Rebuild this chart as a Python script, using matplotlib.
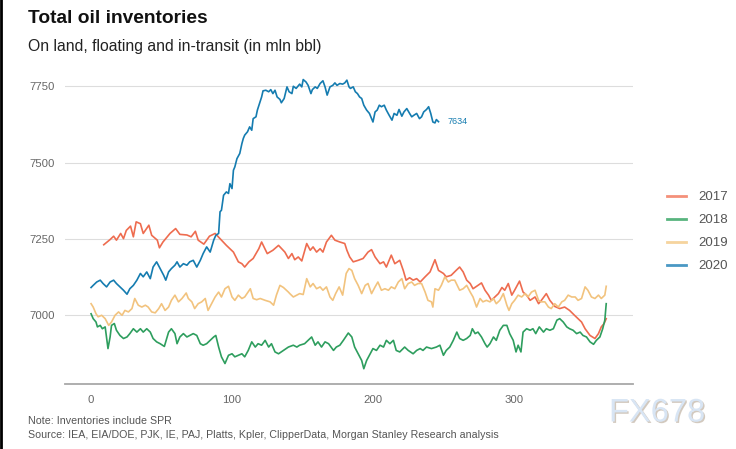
import matplotlib
matplotlib.use("Agg")
import matplotlib.pyplot as plt
import matplotlib.patheffects as pe
from matplotlib.lines import Line2D

plt.rcParams['font.family'] = ['Liberation Sans', 'DejaVu Sans']

# ---------------- data (day of year, mln bbl) ----------------
days_2017 = [9, 13.5, 16, 18, 21, 23, 25, 28, 30, 32, 35, 37, 41, 43, 47, 48.5, 51, 56, 60, 63, 68, 71, 74, 76, 80,
             82, 84, 88, 91.5, 96, 101, 104.5, 107, 109, 112, 115, 119, 121, 125, 129, 133,
             137.5, 140, 142.5, 144.5, 147, 149.5, 153, 155.5, 157.5, 160, 162.5, 164.5, 167, 170.5, 173, 176.5, 180,
             181.5, 183.5, 186, 189.5, 193, 196.5, 199, 201.5, 205, 207.5, 209.5, 213, 215.5, 219, 221.5, 223.5, 226,
             228.5, 231, 233.5, 237, 240.5, 244, 246.5, 250, 252, 255.5, 259,
             261.5, 264, 266.5, 269, 271, 274.5, 277, 279.5, 282, 284, 286.5, 289, 291.5, 293.5, 296, 298.5, 300.5,
             304, 306.5, 309, 311.5, 315, 317.5, 319.5, 323, 325.5, 329, 332.5, 336, 339.5, 343, 345.5, 348, 350.5,
             354, 357.5, 360, 362, 364, 365.5]
vals_2017 = [7231, 7248, 7259, 7246, 7268, 7251, 7278, 7292, 7257, 7306, 7300, 7268, 7295, 7262, 7246, 7221, 7240,
             7268, 7284, 7265, 7263, 7257, 7275, 7246, 7233, 7246, 7259, 7268, 7251, 7229, 7207, 7175, 7169, 7158,
             7175, 7186, 7218, 7240, 7202, 7213, 7229,
             7207, 7186, 7202, 7182, 7191, 7178, 7235, 7213, 7224, 7207, 7218, 7207, 7240, 7262, 7246, 7240, 7235,
             7213, 7191, 7175, 7180, 7186, 7207, 7215, 7191, 7169, 7175, 7158, 7197, 7169, 7180, 7147, 7115, 7123,
             7115, 7120, 7109, 7126, 7142, 7182, 7147, 7137, 7126, 7131, 7147,
             7158, 7142, 7115, 7104, 7087, 7098, 7106, 7082, 7066, 7049, 7060, 7071, 7091, 7082, 7104, 7066, 7082,
             7112, 7076, 7066, 7049, 7060, 7038, 7049, 7071, 7049, 7029, 7022, 7027, 7016, 7000, 6989, 6978, 6956,
             6934, 6924, 6940, 6962, 6973, 6989]

days_2018 = [0, 1.5, 3.5, 4.5, 6.5, 8, 10, 12, 13.5, 14.5, 16.5, 18, 20.5, 23, 25.5, 27.5, 30, 32.5, 35, 37,
             39.5, 42, 44, 46.5, 49, 52, 55, 57, 59.5, 61, 63, 65.5, 68, 70, 72.5, 75, 77.5, 79.5, 82, 84.5,
             87, 88.5, 90.5, 92.5, 95, 97.5, 100, 102, 104.5, 107, 109, 111.5, 114, 116.5, 118.5, 121, 123.5, 126,
             128, 130.5, 133, 136.5, 140,
             143.5, 146, 148, 151.5, 154, 156.5, 159, 161, 163.5, 166, 168.5, 172, 174, 176.5, 179, 182.5, 185, 187,
             189.5, 192, 193.5, 195.5, 198, 200, 202.5, 205, 207.5, 209.5, 212, 214.5, 216.5, 219, 222.5, 225,
             228.5, 231, 233.5, 235.5, 238, 241.5, 245, 247.5, 250, 252, 254.5, 257, 259.5,
             261.5, 264, 266.5, 269, 270.5, 272.5, 274.5, 277, 279.5, 281, 283, 285.5, 287.5, 290, 292.5, 295, 297,
             299.5, 301.5, 303, 305, 306.5, 309, 311.5, 313.5, 315.5, 318, 321, 323, 325.5, 328, 330.5, 332.5, 335,
             337.5, 339.5, 342, 344.5, 347, 349, 351.5, 354, 356.5, 358.5, 361, 363, 364.5, 365.5]
vals_2018 = [7005, 6989, 6978, 6962, 6967, 6956, 6962, 6891, 6929, 6967, 6973, 6951, 6934, 6924, 6929, 6940, 6956,
             6945, 6956, 6945, 6956, 6945, 6924, 6913, 6907, 6898, 6945, 6956, 6940, 6907, 6929, 6940, 6929, 6934,
             6940, 6934, 6907, 6902, 6907, 6918, 6929, 6934, 6896, 6864, 6842, 6869, 6874, 6864, 6869, 6874, 6864,
             6885, 6913, 6896, 6907, 6902, 6918, 6896, 6907, 6880, 6874, 6885, 6896,
             6902, 6896, 6902, 6907, 6918, 6929, 6902, 6913, 6896, 6913, 6907, 6885, 6896, 6902, 6918, 6942, 6929,
             6896, 6874, 6852, 6825, 6852, 6874, 6891, 6885, 6902, 6896, 6918, 6907, 6918, 6885, 6880, 6896, 6885,
             6874, 6885, 6891, 6885, 6896, 6891, 6896, 6902, 6869, 6885, 6896, 6918, 6945,
             6924, 6918, 6924, 6934, 6956, 6940, 6945, 6929, 6907, 6896, 6907, 6929, 6918, 6951, 6967, 6967, 6940,
             6918, 6880, 6902, 6880, 6945, 6956, 6951, 6956, 6940, 6962, 6945, 6956, 6951, 6956, 6984, 6989, 6978,
             6962, 6956, 6951, 6940, 6945, 6934, 6929, 6913, 6905, 6918, 6929, 6956, 6984, 7038]

days_2019 = [0, 1.5, 3.5, 5, 7.5, 10, 12.5, 14.5, 17, 19.5, 22, 24, 26.5, 29, 31, 33.5, 36, 38.5, 40.5, 43,
             45.5, 48, 50, 52.5, 55, 57, 59.5, 62, 64.5, 67.5, 69, 71.5, 73.5, 76, 78.5, 81, 83, 85.5, 88, 90.5,
             92.5, 95, 97.5, 100, 102, 104.5, 107, 109, 113, 115, 117.5, 120, 123.5, 127, 129.5, 131.5, 134, 136.5, 140,
             141, 143.5, 146, 148, 150.5, 153, 155.5, 157.5, 160, 162.5, 164.5, 167, 169.5, 171.5, 173.5, 176, 178.5,
             181, 183, 185, 187, 189.5, 192, 194.5, 196.5, 199, 201.5, 203.5, 206, 208.5, 211, 213, 215.5, 218,
             220.5, 222.5, 225, 227.5, 229.5, 232, 234.5, 237, 239, 241.5, 242.5, 244, 246.5, 248.5, 251, 253.5,
             255.5, 258,
             261.5, 264, 266.5, 269, 271, 273.5, 276, 278, 280.5, 283, 285.5, 287.5, 290, 292.5, 295, 296.5, 298.5,
             300.5, 303, 305.5, 308, 310, 312.5, 315, 317.5, 319.5, 322, 324.5, 326.5, 329, 331.5, 334, 336, 338.5,
             341, 343.5, 345.5, 348, 350.5, 352.5, 355, 357.5, 360, 362, 364.5, 365.5]
vals_2019 = [7038, 7027, 7005, 6995, 7000, 6989, 6967, 6978, 7000, 7011, 7000, 7016, 7011, 7022, 7055, 7033, 7027,
             7033, 7027, 7011, 7008, 7022, 7038, 7016, 7027, 7049, 7066, 7044, 7055, 7073, 7055, 7044, 7022, 7038,
             7044, 7055, 7016, 7038, 7060, 7076, 7060, 7087, 7095, 7060, 7049, 7066, 7055, 7060, 7087, 7055, 7051,
             7055, 7049, 7044, 7033, 7066, 7098, 7091, 7076,
             7071, 7060, 7066, 7071, 7068, 7120, 7093, 7104, 7087, 7093, 7082, 7093, 7060, 7049, 7071, 7093, 7066,
             7137, 7153, 7147, 7120, 7098, 7071, 7098, 7104, 7071, 7093, 7109, 7082, 7087, 7082, 7093, 7087, 7109,
             7120, 7087, 7104, 7109, 7098, 7104, 7104, 7076, 7049, 7044, 7027, 7087, 7082, 7098, 7126, 7109, 7115,
             7115,
             7082, 7087, 7098, 7076, 7060, 7027, 7055, 7044, 7049, 7044, 7055, 7038, 7049, 7071, 7033, 7016, 7038,
             7049, 7066, 7060, 7071, 7060, 7076, 7082, 7049, 7044, 7044, 7027, 7022, 7038, 7027, 7044, 7049, 7066,
             7060, 7060, 7049, 7055, 7093, 7082, 7060, 7055, 7066, 7055, 7066, 7095]

days_2020 = [0, 1.5, 4, 6.5, 8.5, 11, 13.5, 16, 18, 20.5, 23, 25.5, 27.5, 30, 32.5, 35, 37, 39.5, 42, 44,
             46.5, 49, 51.5, 53, 55, 57, 59.5, 61, 63, 65.5, 68, 70, 72.5, 75, 77.5, 79.5, 82, 84.5, 87,
             88.5, 90.5, 91.5, 92.5, 94, 96, 97.5, 98.5, 100, 101, 102, 103.5,
             105.5, 107, 108, 109, 111, 112.5, 114, 115, 117, 118, 119.5, 121, 122, 124, 126, 127.5, 129, 130.5,
             132, 134, 135, 137, 139, 140.5, 142.5, 143.5, 145.5, 148, 149.5, 150.5, 152.5, 154, 156, 157, 159,
             160.5, 162.5, 164.5, 166, 167.5, 169.5, 171.5, 173, 174.5, 176.5, 178.5, 180, 181.5, 183, 184, 186,
             187.5, 189, 190.5, 192, 193.5, 195.5, 197.5, 198.5, 200, 201.5, 203, 204.5, 206, 208, 209.5, 211.5,
             213.5, 215, 217, 218.5, 220.5, 222, 224, 226, 227.5, 229, 231, 233, 234.5, 236, 238, 239.5, 241,
             242.5, 244, 245, 246.5]
vals_2020 = [7091, 7098, 7109, 7115, 7104, 7093, 7109, 7115, 7104, 7093, 7082, 7069, 7087, 7098, 7115, 7137, 7126,
             7142, 7120, 7158, 7175, 7153, 7131, 7115, 7142, 7153, 7164, 7175, 7158, 7169, 7164, 7175, 7180, 7158,
             7180, 7202, 7224, 7207, 7246,
             7262, 7268, 7339, 7344, 7393, 7404, 7399, 7431, 7415, 7475, 7486, 7513,
             7530, 7562, 7579, 7590, 7601, 7617, 7606, 7644, 7650, 7672, 7693, 7715, 7735, 7737, 7732, 7739, 7726,
             7737, 7715, 7707, 7696, 7710, 7748, 7732, 7726, 7750, 7743, 7757, 7748, 7772, 7764, 7753, 7726, 7739,
             7748, 7743, 7759, 7768, 7748, 7721, 7748, 7753, 7761, 7753, 7759, 7757, 7761, 7770, 7748, 7743, 7748,
             7732, 7726, 7715, 7710, 7688, 7672, 7661, 7650, 7633, 7666, 7672, 7688, 7683, 7688, 7672, 7655, 7639,
             7661, 7655, 7674, 7652, 7666, 7677, 7661, 7650, 7655, 7661, 7644, 7650, 7666, 7674, 7683, 7661, 7633,
             7630, 7641, 7634]

series_labels = ["2017", "2018", "2019", "2020"]
x_ticks = [0, 100, 200, 300]
y_ticks = [7000, 7250, 7500, 7750]

colors = ["#EE6C4F", "#2E9E5E", "#F2C37E", "#157CB0"]
legend_colors = ["#F4907A", "#58B47E", "#F6D49E", "#4A98C4"]

W, H = 736, 449
fig = plt.figure(figsize=(W / 100, H / 100), dpi=100)
fig.patch.set_facecolor("white")

ax_l, ax_r, ax_b, ax_t = 65, 633, 384, 71
ax = fig.add_axes([ax_l / W, 1 - ax_b / H, (ax_r - ax_l) / W, (ax_b - ax_t) / H])

all_days = [days_2017, days_2018, days_2019, days_2020]
all_vals = [vals_2017, vals_2018, vals_2019, vals_2020]
for d, v, c, lab in zip(all_days, all_vals, colors, series_labels):
    ax.plot(d, v, color=c, lw=1.2, label=lab, zorder=3, solid_joinstyle="round")

ax.set_xlim(-18.5, 384.5)
ax.set_ylim(6775, 7800)
ax.set_xticks(x_ticks)
ax.set_yticks(y_ticks)
ax.set_xticklabels([str(t) for t in x_ticks])
ax.set_yticklabels([str(t) for t in y_ticks])
ax.tick_params(axis="both", length=0, labelsize=8.2, labelcolor="#666666")
ax.tick_params(axis="y", pad=7.5)
ax.tick_params(axis="x", pad=8)
ax.grid(axis="y", color="#DDDDDD", lw=0.8, zorder=0)
ax.grid(axis="x", visible=False)
for s in ["top", "right", "left"]:
    ax.spines[s].set_visible(False)
ax.spines["bottom"].set_color("#A8A8A8")
ax.spines["bottom"].set_linewidth(1.3)
ax.set_facecolor("white")

# end label for 2020
ax.annotate(f"{vals_2020[-1]}", xy=(days_2020[-1], vals_2020[-1]), xytext=(6.5, 0),
            textcoords="offset points", va="center", ha="left", fontsize=6.5, color=colors[3])

# legend
handles = [Line2D([0], [0], color=c, lw=2) for c in legend_colors]
fig.legend(handles, series_labels, loc="upper left", bbox_to_anchor=(667 / W, 1 - 191 / H),
           frameon=False, fontsize=9.5, labelcolor="#555555", handlelength=1.45, handletextpad=0.95,
           labelspacing=0.82, borderpad=0, borderaxespad=0)

# titles
fig.text(28 / W, 1 - 18.5 / H, "Total oil inventories", fontsize=13.8, fontweight="bold",
         ha="left", va="center", color="#111111")
fig.text(28 / W, 1 - 46 / H, "On land, floating and in-transit (in mln bbl)", fontsize=11.3,
         ha="left", va="center", color="#222222")

# notes
fig.text(28 / W, 1 - 421 / H, "Note: Inventories include SPR", fontsize=7.7,
         ha="left", va="center", color="#555555")
fig.text(28 / W, 1 - 435 / H,
         "Source: IEA, EIA/DOE, PJK, IE, PAJ, Platts, Kpler, ClipperData, Morgan Stanley Research analysis",
         fontsize=7.7, ha="left", va="center", color="#555555")

# watermark
wm = fig.text(609 / W, 1 - 413 / H, "FX678", fontsize=23.5, ha="left", va="center",
              color="#D8E5F4")
wm.set_path_effects([pe.withSimplePatchShadow(offset=(1, -1), shadow_rgbFace="#B5A594", alpha=0.6)])

# left border
fig.add_artist(Line2D([0.001, 0.001], [0, 1], transform=fig.transFigure, color="black", lw=2))

fig.savefig("out.png", dpi=100)
